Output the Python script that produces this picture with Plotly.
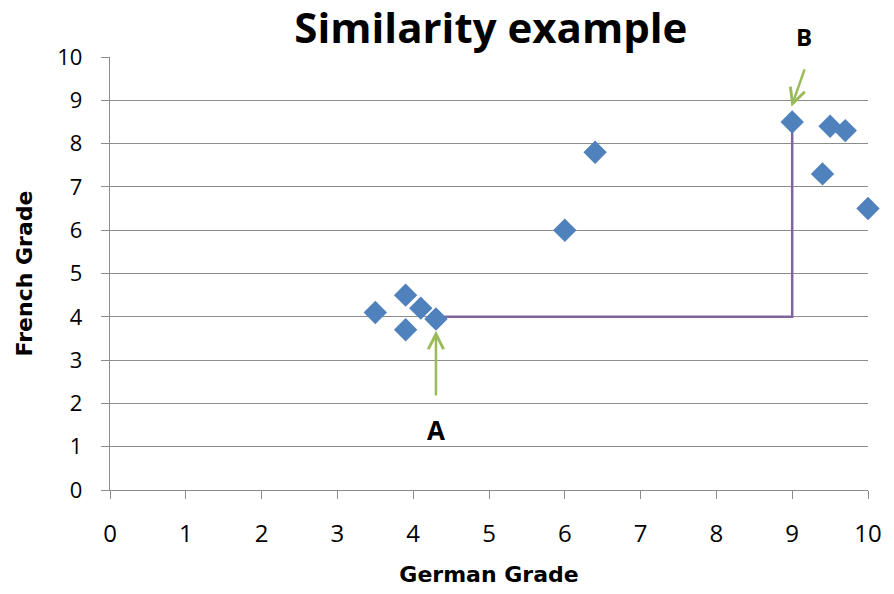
import plotly.graph_objects as go

# German / French grades
german = [3.5, 3.9, 4.1, 3.9, 4.3, 6.0, 6.4, 9.0, 9.5, 9.7, 9.4, 10.0]
french = [4.1, 4.5, 4.2, 3.7, 3.95, 6.0, 7.8, 8.5, 8.4, 8.3, 7.3, 6.5]

# path from A to B (Manhattan style)
path_x = [4.3, 9.0, 9.0]
path_y = [4.0, 4.0, 8.5]

ticks = list(range(0, 11))

BLUE = "#4F81BD"
PURPLE = "#8064A2"
GREEN = "#9BBB59"
GRID = "#8C8C8C"
FONT = "Open Sans"
WIDE = "DejaVu Sans"

fig = go.Figure()

fig.add_trace(go.Scatter(
    x=path_x, y=path_y, mode="lines",
    line=dict(color=PURPLE, width=2.5),
    hoverinfo="skip", cliponaxis=False,
))

fig.add_trace(go.Scatter(
    x=german, y=french, mode="markers",
    marker=dict(symbol="diamond", size=18, color=BLUE, line=dict(width=0)),
    cliponaxis=False,
    hovertemplate="German %{x}<br>French %{y}<extra></extra>",
))

# arrows pointing at A and B
fig.add_annotation(x=4.3, y=3.68, ax=4.3, ay=2.15, xref="x", yref="y",
                   axref="x", ayref="y", text="", showarrow=True,
                   arrowhead=5, arrowsize=1.2, arrowwidth=2.5, arrowcolor=GREEN)
fig.add_annotation(x=8.99, y=8.85, ax=9.17, ay=9.75, xref="x", yref="y",
                   axref="x", ayref="y", text="", showarrow=True,
                   arrowhead=5, arrowsize=1.2, arrowwidth=2.5, arrowcolor=GREEN)
fig.add_annotation(x=4.3, y=1.38, xref="x", yref="y", text="<b>A</b>",
                   showarrow=False, yanchor="middle",
                   font=dict(family=FONT, size=26, color="#000"))
fig.add_annotation(x=9.15, y=1.047, xref="x", yref="paper", text="<b>B</b>",
                   showarrow=False, yanchor="middle",
                   font=dict(family=FONT, size=24, color="#000"))

fig.update_layout(
    width=886, height=586,
    paper_bgcolor="white", plot_bgcolor="white",
    margin=dict(l=102, r=21, t=49, b=102),
    showlegend=False,
    title=dict(text="<b>Similarity example</b>", x=0.545, xanchor="center",
               y=0.966, yanchor="middle",
               font=dict(family=FONT, size=42, color="#000")),
)
fig.update_xaxes(
    range=[0, 10], tickvals=ticks, showgrid=False, zeroline=False,
    showline=True, linecolor=GRID, linewidth=1.3,
    ticks="outside", ticklen=8, tickcolor=GRID, ticklabelstandoff=14,
    tickfont=dict(family=FONT, size=24, color="#000"),
    title=dict(text="<b>German Grade</b>", standoff=18,
               font=dict(family=WIDE, size=22, color="#000")),
)
fig.update_yaxes(
    range=[0, 10], tickvals=ticks, showgrid=True, gridcolor=GRID, gridwidth=1.3,
    zeroline=False, showline=True, linecolor=GRID, linewidth=1.3,
    ticks="outside", ticklen=8, tickcolor=GRID, ticklabelstandoff=14,
    tickfont=dict(family=FONT, size=22, color="#000"),
    title=dict(text="<b>French Grade</b>", standoff=18,
               font=dict(family=WIDE, size=22, color="#000")),
)

fig.write_html("out.html")
